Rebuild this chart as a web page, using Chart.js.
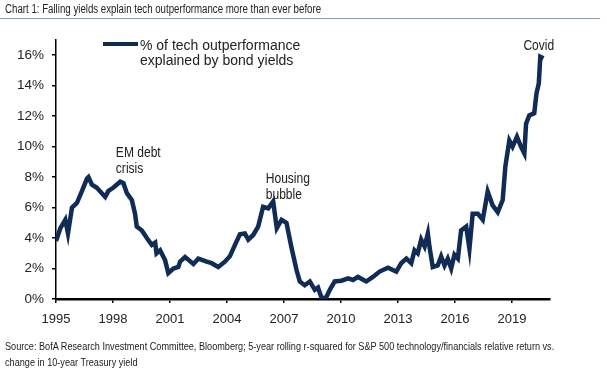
<!DOCTYPE html>
<html>
<head>
<meta charset="utf-8">
<script src="https://cdn.jsdelivr.net/npm/chart.js@4"></script>
<style>
  body { margin: 0; background: #fff; }
  #wrap { position: relative; width: 607px; height: 374px; font-family: "Liberation Sans", Arial, sans-serif; color: #222; }
  #title { position: absolute; left: 5px; top: 2px; font-size: 12.5px; white-space: nowrap; transform: scaleX(0.775); transform-origin: 0 0; }
  #rule { position: absolute; left: 0; top: 18px; width: 600px; height: 1px; background: #7f9cc4; }
  #source { position: absolute; left: 5px; top: 338px; font-size: 10.5px; line-height: 16px; white-space: nowrap; transform: scaleX(0.87); transform-origin: 0 0; }
  canvas { position: absolute; left: 0; top: 0; }
</style>
</head>
<body>
<div id="wrap">
  <canvas id="chart" width="607" height="374"></canvas>
  <div id="title">Chart 1: Falling yields explain tech outperformance more than ever before</div>
  <div id="rule"></div>
  <div id="source">Source: BofA Research Investment Committee, Bloomberg; 5-year rolling r-squared for S&amp;P 500 technology/financials relative return vs.<br>change in 10-year Treasury yield</div>
</div>
<script>
// dados (ano decimal, % explicado)
const years = [1995.0, 1995.23, 1995.49, 1995.63, 1995.84, 1996.10, 1996.37, 1996.63, 1996.71, 1996.89,
  1997.15, 1997.59, 1997.76, 1998.01, 1998.38, 1998.55, 1998.73, 1998.99, 1999.16, 1999.25,
  1999.52, 1999.78, 2000.04, 2000.22, 2000.29, 2000.48, 2000.74, 2000.91, 2001.18, 2001.44,
  2001.53, 2001.79, 2002.23, 2002.49, 2002.93, 2003.19, 2003.54, 2003.89, 2004.15, 2004.42,
  2004.68, 2004.94, 2005.12, 2005.38, 2005.64, 2005.90, 2006.17, 2006.43, 2006.62, 2006.87,
  2007.13, 2007.39, 2007.66, 2007.83, 2008.09, 2008.36, 2008.62, 2008.79, 2008.97, 2009.20,
  2009.41, 2009.67, 2010.02, 2010.37, 2010.63, 2010.89, 2011.33, 2011.68, 2012.03, 2012.47,
  2012.91, 2013.17, 2013.44, 2013.70, 2013.87, 2014.04, 2014.22, 2014.40, 2014.57, 2014.66,
  2014.83, 2015.09, 2015.27, 2015.45, 2015.62, 2015.80, 2015.97, 2016.15, 2016.32, 2016.59,
  2016.76, 2016.93, 2017.20, 2017.46, 2017.72, 2017.98, 2018.25, 2018.51, 2018.65, 2018.86,
  2019.03, 2019.26, 2019.47, 2019.65, 2019.74, 2019.91, 2020.17, 2020.29, 2020.41, 2020.49,
  2020.66];
const explained = [3.8, 4.65, 5.2, 4.3, 6.0, 6.3, 7.1, 7.9, 8.0, 7.5,
  7.3, 6.7, 7.1, 7.3, 7.7, 7.6, 6.95, 6.5, 5.6, 4.75,
  4.5, 4.0, 3.55, 3.7, 3.0, 3.2, 2.55, 1.7, 2.0, 2.1,
  2.45, 2.75, 2.3, 2.65, 2.45, 2.35, 2.1, 2.45, 2.8, 3.55,
  4.25, 4.3, 3.9, 4.2, 4.75, 6.05, 5.95, 6.4, 4.65, 5.2,
  5.0, 3.4, 1.9, 1.15, 0.9, 1.15, 0.6, 0.75, 0.1, 0.05,
  0.6, 1.15, 1.2, 1.35, 1.25, 1.45, 1.15, 1.45, 1.8, 2.05,
  1.8, 2.35, 2.65, 2.35, 3.2, 3.0, 3.9, 3.45, 4.3, 3.4,
  2.1, 2.2, 2.8, 2.2, 2.65, 2.0, 2.9, 2.65, 4.5, 4.75,
  3.3, 5.6, 5.6, 5.2, 7.05, 6.15, 5.7, 6.5, 8.7, 10.4,
  10.0, 10.65, 10.0, 9.55, 11.5, 12.05, 12.2, 13.5, 14.15, 15.9,
  15.8];
const xTicks = [1995, 1998, 2001, 2004, 2007, 2010, 2013, 2016, 2019];
const yTicks = [0, 2, 4, 6, 8, 10, 12, 14, 16];
const seriesLabel = ["% of tech outperformance", "explained by bond yields"];
const notes = [
  { text: ["EM debt", "crisis"], year: 1998.15, value: 9.6 },
  { text: ["Housing", "bubble"], year: 2006.04, value: 7.9 },
  { text: ["Covid"], year: 2019.6, value: 16.6 }
];

const lineColor = "#0f2b56";
const font = '"Liberation Sans", Arial, sans-serif';

// legenda e anotações desenhadas à mão
const extras = {
  id: "extras",
  afterDraw(chart) {
    const ctx = chart.ctx;
    const x = chart.scales.x, y = chart.scales.y;
    ctx.save();
    ctx.fillStyle = "#222";
    ctx.textBaseline = "middle";
    ctx.font = "14px " + font;
    notes.forEach(n => {
      const px = x.getPixelForValue(n.year);
      const py = y.getPixelForValue(n.value);
      n.text.forEach((t, i) => {
        ctx.save();
        ctx.translate(px, py + i * 16);
        ctx.scale(0.86, 1);
        ctx.fillText(t, 0, 0);
        ctx.restore();
      });
    });
    // legenda
    ctx.strokeStyle = lineColor;
    ctx.lineWidth = 4;
    ctx.beginPath();
    ctx.moveTo(103, 44);
    ctx.lineTo(138, 44);
    ctx.stroke();
    ctx.font = "14px " + font;
    seriesLabel.forEach((t, i) => ctx.fillText(t, 140, 46 + i * 15));
    ctx.restore();
  }
};

new Chart(document.getElementById("chart").getContext("2d"), {
  type: "line",
  data: {
    datasets: [{
      data: years.map((yr, i) => ({ x: yr, y: explained[i] })),
      borderColor: lineColor,
      borderWidth: 4.5,
      pointRadius: 0,
      tension: 0,
      fill: false
    }]
  },
  options: {
    responsive: false,
    animation: false,
    layout: { padding: { left: 1, right: 57, top: 40, bottom: 0 } },
    plugins: { legend: { display: false }, tooltip: { enabled: false } },
    scales: {
      x: {
        type: "linear",
        min: 1995,
        max: 2021,
        afterBuildTicks: s => { s.ticks = xTicks.map(v => ({ value: v })); },
        afterFit: s => { s.height = 75; },
        grid: { drawOnChartArea: false, tickLength: 4, color: "#000", lineWidth: 1.5 },
        border: { color: "#000", width: 2.5 },
        ticks: {
          callback: v => String(v),
          color: "#222",
          padding: 9,
          maxRotation: 0,
          font: { family: font, size: 13 }
        }
      },
      y: {
        min: 0,
        max: 17,
        afterBuildTicks: s => { s.ticks = yTicks.map(v => ({ value: v })); },
        afterFit: s => { s.width = 55; },
        grid: { drawOnChartArea: false, tickLength: 4, color: "#000", lineWidth: 1.5 },
        border: { color: "#000", width: 1.5 },
        ticks: {
          callback: v => v + "%",
          color: "#222",
          padding: 8,
          font: { family: font, size: 13.5 }
        }
      }
    }
  },
  plugins: [extras]
});
</script>
</body>
</html>
